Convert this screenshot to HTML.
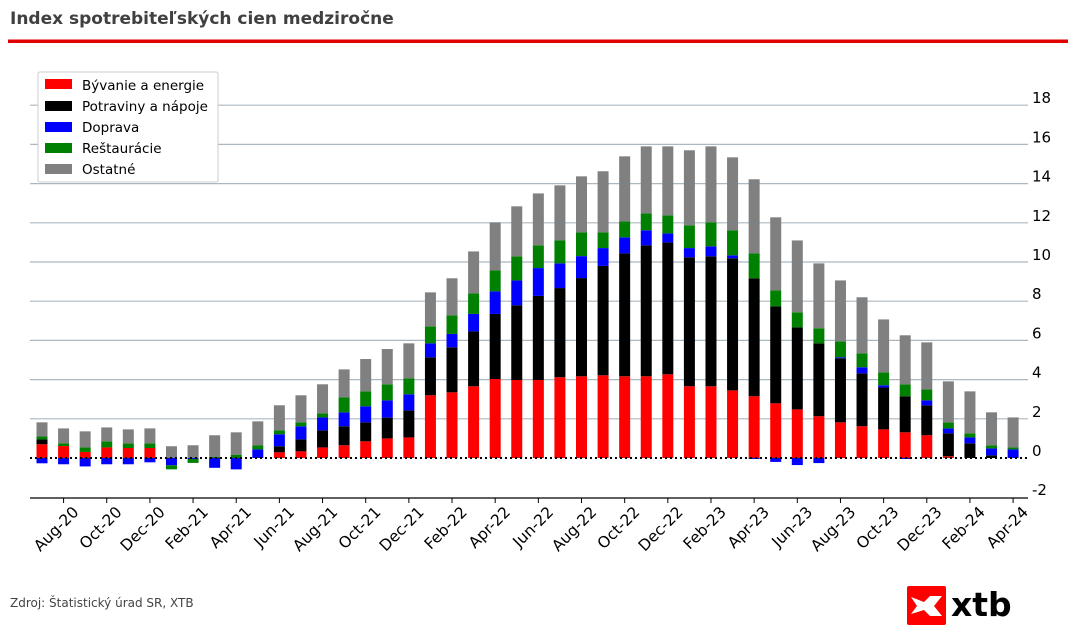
<!DOCTYPE html>
<html><head><meta charset="utf-8"><style>
body{margin:0;background:#fff;}
svg text{font-family:"DejaVu Sans","Liberation Sans",sans-serif;}
</style></head><body>
<svg id="chart" width="1076" height="635" viewBox="0 0 1076 635" xmlns="http://www.w3.org/2000/svg">
<text x="10" y="24" font-size="17" font-weight="bold" fill="#404040">Index spotrebiteľských cien medziročne</text>
<rect x="8" y="39.5" width="1060" height="3.5" fill="#e10000"/>
<g id="grid"></g>
<g id="bars"></g>
<line x1="30" x2="1028" y1="458" y2="458" stroke="#000" stroke-width="2" stroke-dasharray="2,3"/>
<line x1="30" x2="1028" y1="498" y2="498" stroke="#000" stroke-width="1.2"/>
<g id="xt"></g>
<g id="yt"></g>
<g>
<rect x="38" y="72" width="180" height="110" fill="#fff" stroke="#ccc" rx="2"/>
<g><rect x="45" y="79" width="27" height="10" fill="#ff0000"/><text x="82" y="90" font-size="13.5">Bývanie a energie</text></g>
<g><rect x="45" y="101" width="27" height="10" fill="#000"/><text x="82" y="111" font-size="13.5">Potraviny a nápoje</text></g>
<g><rect x="45" y="122" width="27" height="10" fill="#0000ff"/><text x="82" y="132" font-size="13.5">Doprava</text></g>
<g><rect x="45" y="143" width="27" height="10" fill="#008000"/><text x="82" y="153" font-size="13.5">Reštaurácie</text></g>
<g><rect x="45" y="164" width="27" height="10" fill="#808080"/><text x="82" y="174" font-size="13.5">Ostatné</text></g>
</g>
<text x="10" y="607" font-size="12" fill="#444">Zdroj: Štatistický úrad SR, XTB</text>
<g>
<rect x="907" y="586" width="39" height="39" rx="2" fill="#ff0000"/>
<path d="M911 597 L924 602 L930 596 L942 596 L934 606 L942 616 L930 616 L924 610 L911 614 L917 606 Z" fill="#fff"/>
<text x="951" y="616" font-size="33" font-weight="bold" fill="#000">xtb</text>
</g>
</svg>
<script>
const months=["Jul-20","Aug-20","Sep-20","Oct-20","Nov-20","Dec-20","Jan-21","Feb-21","Mar-21","Apr-21","May-21","Jun-21","Jul-21","Aug-21","Sep-21","Oct-21","Nov-21","Dec-21","Jan-22","Feb-22","Mar-22","Apr-22","May-22","Jun-22","Jul-22","Aug-22","Sep-22","Oct-22","Nov-22","Dec-22","Jan-23","Feb-23","Mar-23","Apr-23","May-23","Jun-23","Jul-23","Aug-23","Sep-23","Oct-23","Nov-23","Dec-23","Jan-24","Feb-24","Mar-24","Apr-24"];
const housing=[0.70,0.61,0.31,0.54,0.51,0.51,0,0,0,0,0,0.29,0.34,0.54,0.65,0.85,1.0,1.05,3.2,3.35,3.66,4.03,3.98,3.98,4.12,4.17,4.22,4.17,4.17,4.27,3.66,3.66,3.45,3.15,2.79,2.48,2.13,1.82,1.62,1.46,1.31,1.16,0.09,0,0,0];
const food=[0.25,0,0,0,0,0,0,0,0,0,0,0.31,0.61,0.87,0.97,0.97,1.06,1.38,1.94,2.30,2.80,3.32,3.81,4.29,4.55,5.01,5.58,6.27,6.68,6.73,6.58,6.63,6.74,6.02,4.95,4.19,3.72,3.27,2.70,2.14,1.84,1.53,1.17,0.75,0.14,0];
const transport=[-0.27,-0.32,-0.43,-0.32,-0.32,-0.22,-0.37,-0.05,-0.5,-0.58,0.44,0.61,0.67,0.66,0.71,0.82,0.88,0.82,0.71,0.68,0.89,1.15,1.27,1.42,1.26,1.12,0.91,0.82,0.77,0.46,0.47,0.51,0.15,-0.05,-0.2,-0.36,-0.26,0.05,0.31,0.11,-0.05,0.25,0.25,0.30,0.35,0.44];
const restaurants=[0.15,0.14,0.23,0.31,0.24,0.24,-0.21,-0.2,0.05,0.17,0.2,0.2,0.2,0.21,0.77,0.76,0.82,0.81,0.87,0.95,1.05,1.07,1.23,1.16,1.17,1.21,0.80,0.81,0.86,0.92,1.16,1.22,1.28,1.27,0.81,0.76,0.77,0.81,0.71,0.66,0.61,0.56,0.31,0.21,0.16,0.10];
const other=[0.72,0.76,0.82,0.71,0.71,0.76,0.60,0.65,1.11,1.14,1.23,1.28,1.38,1.48,1.42,1.65,1.80,1.79,1.73,1.89,2.14,2.45,2.55,2.65,2.81,2.86,3.12,3.32,3.42,3.52,3.83,3.88,3.72,3.78,3.73,3.67,3.31,3.11,2.86,2.70,2.50,2.40,2.09,2.14,1.68,1.53];
const yTicks=[-2,0,2,4,6,8,10,12,14,16,18];
const series=[housing,food,transport,restaurants,other];
const colors=["#ff0000","#000000","#0000ff","#008000","#808080"];
const names=["bar-housing","bar-food","bar-transport","bar-restaurants","bar-other"];
const NS="http://www.w3.org/2000/svg";
const y=v=>458-v*19.6;
const x=i=>42+i*21.58;
const bw=11;
const grid=document.getElementById('grid'),yt=document.getElementById('yt'),xt=document.getElementById('xt'),bars=document.getElementById('bars');
yTicks.forEach(t=>{
 if(t>0){const l=document.createElementNS(NS,'line');
 
 
 l.setAttribute('x1',30);l.setAttribute('x2',1028);l.setAttribute('y1',y(t));l.setAttribute('y2',y(t));l.setAttribute('stroke','#aab8c2');l.setAttribute('stroke-width',1.2);grid.appendChild(l);}
 const tx=document.createElementNS(NS,'text');
 
 
 tx.setAttribute('x',1032);tx.setAttribute('y',y(t)-2);tx.setAttribute('font-size',15);tx.textContent=t;yt.appendChild(tx);
});
months.forEach((m,i)=>{
 let pos=0,neg=0;
 series.forEach((s,k)=>{
  const v=s[i]; if(!v) return;
  let top,bot;
  if(v>0){bot=pos;top=pos+v;pos=top;}else{top=neg;bot=neg+v;neg=bot;}
  const r=document.createElementNS(NS,'rect');
  
  
  r.setAttribute('x',x(i)-bw/2);r.setAttribute('width',bw);
  r.setAttribute('y',y(top));r.setAttribute('height',y(bot)-y(top));
  r.setAttribute('fill',colors[k]);bars.appendChild(r);
 });
 if(i%2===1){
  const tl=document.createElementNS(NS,'line');
  
  
  tl.setAttribute('x1',x(i));tl.setAttribute('x2',x(i));tl.setAttribute('y1',498);tl.setAttribute('y2',503);tl.setAttribute('stroke','#000');xt.appendChild(tl);
  const t=document.createElementNS(NS,'text');
  
  
  t.setAttribute('font-size',15.5);t.setAttribute('text-anchor','end');
  t.setAttribute('transform',`translate(${x(i)+16},513) rotate(-45)`);
  t.textContent=m;xt.appendChild(t);
 }
});
</script>
</body></html>
